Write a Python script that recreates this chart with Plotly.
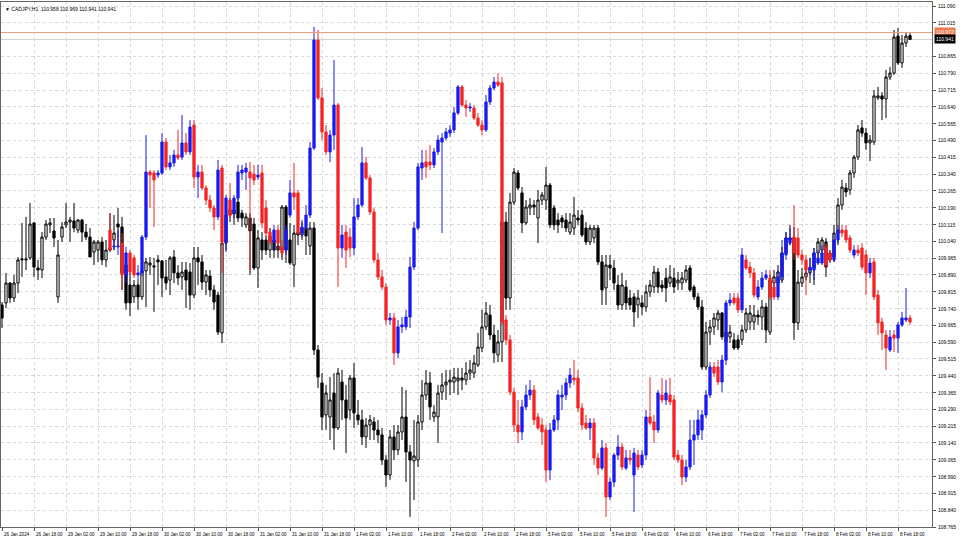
import plotly.graph_objects as go

symbol = "CADJPY,H1"
time_labels = ["26 Jan 2024", "26 Jan 18:00", "29 Jan 02:00", "29 Jan 10:00", "29 Jan 18:00",
               "30 Jan 02:00", "30 Jan 10:00", "30 Jan 18:00", "31 Jan 02:00", "31 Jan 10:00",
               "31 Jan 18:00", "1 Feb 02:00", "1 Feb 10:00", "1 Feb 18:00", "2 Feb 02:00",
               "2 Feb 10:00", "2 Feb 18:00", "5 Feb 02:00", "5 Feb 10:00", "5 Feb 18:00",
               "6 Feb 02:00", "6 Feb 10:00", "6 Feb 18:00", "7 Feb 02:00", "7 Feb 10:00",
               "7 Feb 18:00", "8 Feb 02:00", "8 Feb 10:00", "8 Feb 18:00"]
bars_per_label = 8
price_labels = ["111.090", "111.015", "110.865", "110.790", "110.715", "110.640", "110.565",
                "110.490", "110.415", "110.340", "110.265", "110.190", "110.115", "110.040",
                "109.965", "109.890", "109.815", "109.740", "109.665", "109.590", "109.515",
                "109.440", "109.365", "109.290", "109.215", "109.140", "109.065", "108.990",
                "108.915", "108.840", "108.765"]
ask_price = 110.972

# CADJPY H1 candles (black / white)
black_open = [
    109.756, 109.765, 109.854, 109.787, 109.854, 109.957, 109.957, 109.966, 110.122, 109.921,
    109.912, 110.059, 110.113, 110.086, 109.792, 110.059, 110.113, 110.126, 110.131, 110.090,
    110.135, 110.081, 110.059, 109.992, 110.001, 110.037, 109.957, 110.001, 110.046, 110.117,
    110.104, 109.934, 109.845, 109.792, 109.845, 109.792, 109.908, 109.934, 109.925, 109.957,
    109.952, 109.881, 109.867, 109.970, 109.899, 109.881, 109.912, 109.903, 109.800, 109.966,
    109.948, 109.858, 109.885, 109.823, 109.800, 109.631, 110.032, 110.157, 110.180, 110.215,
    110.166, 110.113, 110.144, 110.117, 109.921, 110.046, 110.046, 110.001, 110.046, 110.019,
    110.001, 110.193, 110.046, 109.934, 110.081, 110.068, 110.099, 110.019, 110.099, 109.555,
    109.408, 109.265, 109.256, 109.363, 109.207, 109.412, 109.332, 109.287, 109.430, 109.265,
    109.243, 109.167, 109.220, 109.234, 109.198, 109.176, 109.064, 108.997, 109.167, 109.109,
    109.189, 109.256, 109.100, 109.060, 109.064, 109.234, 109.354, 109.408, 109.256, 109.256,
    109.367, 109.399, 109.412, 109.412, 109.417, 109.430, 109.421, 109.452, 109.452, 109.488,
    109.564, 109.658, 109.711, 109.622, 109.533, 109.591, 110.126, 109.787, 110.215, 110.345,
    110.256, 110.122, 110.189, 110.202, 110.144, 110.224, 110.224, 110.291, 110.189, 110.135,
    110.144, 110.135, 110.081, 110.099, 110.144, 110.157, 110.099, 110.037, 110.055, 110.099,
    109.948, 109.832, 109.934, 109.921, 109.845, 109.756, 109.836, 109.787, 109.792, 109.756,
    109.765, 109.747, 109.814, 109.836, 109.903, 109.845, 109.876, 109.854, 109.876, 109.854,
    109.854, 109.867, 109.921, 109.836, 109.792, 109.747, 109.479, 109.635, 109.658, 109.689,
    109.720, 109.591, 109.613, 109.600, 109.600, 109.600, 109.644, 109.680, 109.680, 109.711,
    109.702, 109.747, 109.635, 109.854, 109.854, 109.867, 109.988, 110.055, 110.055, 109.676,
    109.854, 109.881, 109.899, 109.921, 109.988, 110.001, 110.037, 109.957, 109.970, 110.077,
    110.202, 110.278, 110.269, 110.345, 110.416, 110.546, 110.523, 110.479, 110.483, 110.680,
    110.689, 110.675, 110.773, 110.791, 110.956, 110.836, 110.925, 110.958]
black_high = [
    109.769, 109.899, 109.858, 109.890, 109.970, 110.122, 110.149, 110.211, 110.126, 109.957,
    110.081, 110.135, 110.144, 110.144, 110.046, 110.126, 110.211, 110.149, 110.211, 110.140,
    110.140, 110.117, 110.099, 110.046, 110.046, 110.059, 110.046, 110.166, 110.157, 110.189,
    110.149, 109.979, 109.899, 109.867, 109.867, 110.046, 109.966, 109.970, 109.966, 109.979,
    109.957, 109.957, 109.974, 110.001, 109.934, 109.948, 109.948, 109.943, 110.015, 110.015,
    109.979, 109.912, 109.912, 109.845, 109.814, 110.046, 110.202, 110.233, 110.224, 110.247,
    110.180, 110.166, 110.166, 110.144, 110.090, 110.081, 110.064, 110.099, 110.081, 110.077,
    110.202, 110.202, 110.122, 110.113, 110.122, 110.126, 110.135, 110.126, 110.126, 109.577,
    109.452, 109.399, 109.434, 109.452, 109.475, 109.466, 109.399, 109.443, 109.497, 109.332,
    109.287, 109.251, 109.265, 109.256, 109.243, 109.207, 109.086, 109.198, 109.220, 109.220,
    109.390, 109.376, 109.131, 109.243, 109.265, 109.421, 109.466, 109.457, 109.309, 109.399,
    109.452, 109.466, 109.466, 109.475, 109.475, 109.475, 109.501, 109.510, 109.533, 109.631,
    109.734, 109.769, 109.756, 109.667, 109.644, 110.171, 110.171, 110.256, 110.367, 110.358,
    110.282, 110.224, 110.233, 110.224, 110.269, 110.260, 110.372, 110.300, 110.202, 110.166,
    110.157, 110.166, 110.166, 110.238, 110.180, 110.180, 110.126, 110.113, 110.113, 110.113,
    109.979, 109.979, 109.979, 109.957, 109.890, 109.899, 109.867, 109.823, 109.809, 109.823,
    109.800, 109.845, 109.867, 109.930, 109.921, 109.867, 109.921, 109.934, 109.921, 109.903,
    109.903, 109.934, 109.934, 109.845, 109.809, 109.778, 109.680, 109.689, 109.720, 109.734,
    109.725, 109.644, 109.667, 109.631, 109.622, 109.667, 109.742, 109.756, 109.756, 109.734,
    109.778, 109.765, 109.890, 109.912, 109.934, 110.015, 110.081, 110.113, 110.104, 109.912,
    109.921, 109.934, 109.966, 110.010, 110.055, 110.059, 110.055, 110.001, 110.113, 110.233,
    110.314, 110.300, 110.358, 110.425, 110.559, 110.581, 110.546, 110.514, 110.715, 110.729,
    110.706, 110.805, 110.818, 110.983, 110.992, 110.961, 110.970, 110.969]
black_low = [
    109.653, 109.742, 109.765, 109.769, 109.809, 109.881, 109.912, 109.957, 109.881, 109.867,
    109.876, 110.046, 110.077, 110.015, 109.765, 110.037, 110.099, 110.037, 110.081, 110.077,
    110.037, 110.046, 109.970, 109.934, 109.948, 109.934, 109.925, 109.992, 110.001, 110.015,
    109.823, 109.734, 109.707, 109.765, 109.734, 109.778, 109.747, 109.890, 109.725, 109.845,
    109.792, 109.823, 109.800, 109.854, 109.845, 109.823, 109.742, 109.734, 109.787, 109.845,
    109.823, 109.800, 109.792, 109.734, 109.622, 109.586, 110.001, 110.126, 110.113, 110.126,
    110.104, 110.099, 109.890, 109.912, 109.832, 109.957, 109.979, 109.966, 109.966, 109.966,
    109.957, 109.943, 109.934, 109.836, 110.023, 110.046, 109.979, 109.979, 109.533, 109.385,
    109.198, 109.198, 109.153, 109.109, 109.198, 109.243, 109.095, 109.243, 109.207, 109.220,
    109.131, 109.118, 109.153, 109.153, 109.140, 109.042, 108.943, 108.975, 109.064, 109.086,
    109.153, 108.966, 108.810, 108.885, 109.033, 109.198, 109.332, 109.243, 109.234, 109.140,
    109.332, 109.332, 109.354, 109.363, 109.354, 109.376, 109.399, 109.421, 109.430, 109.479,
    109.546, 109.644, 109.600, 109.497, 109.501, 109.501, 109.734, 109.734, 110.202, 110.269,
    110.077, 110.113, 110.157, 110.157, 110.032, 110.202, 110.180, 110.099, 110.090, 110.077,
    110.099, 110.081, 110.068, 110.068, 110.113, 110.059, 110.023, 110.023, 110.032, 109.934,
    109.756, 109.756, 109.867, 109.823, 109.734, 109.734, 109.734, 109.734, 109.658, 109.698,
    109.711, 109.725, 109.792, 109.809, 109.809, 109.814, 109.769, 109.836, 109.809, 109.823,
    109.823, 109.854, 109.814, 109.778, 109.734, 109.466, 109.466, 109.577, 109.622, 109.644,
    109.600, 109.564, 109.586, 109.555, 109.555, 109.577, 109.631, 109.644, 109.644, 109.667,
    109.644, 109.586, 109.622, 109.823, 109.832, 109.854, 109.979, 110.023, 109.600, 109.644,
    109.836, 109.867, 109.854, 109.845, 109.966, 109.988, 109.881, 109.943, 109.948, 110.023,
    110.180, 110.238, 110.247, 110.323, 110.403, 110.506, 110.448, 110.398, 110.470, 110.671,
    110.581, 110.590, 110.760, 110.782, 110.827, 110.814, 110.907, 110.941]
black_close = [
    109.698, 109.854, 109.787, 109.854, 109.957, 109.961, 109.961, 110.117, 109.925, 109.912,
    110.059, 110.117, 110.122, 110.055, 109.979, 110.104, 110.126, 110.135, 110.099, 110.135,
    110.081, 110.059, 109.970, 110.037, 110.037, 109.957, 110.001, 110.010, 110.077, 110.104,
    109.899, 109.765, 109.765, 109.845, 109.792, 109.908, 109.948, 109.943, 109.930, 109.948,
    109.876, 109.854, 109.966, 109.899, 109.876, 109.903, 109.867, 109.800, 109.966, 109.948,
    109.858, 109.890, 109.823, 109.769, 109.635, 110.032, 110.157, 110.180, 110.162, 110.144,
    110.144, 110.149, 110.086, 109.921, 110.055, 110.001, 110.001, 110.064, 110.001, 110.001,
    110.193, 110.001, 109.943, 110.077, 110.068, 110.099, 110.064, 110.099, 109.555, 109.434,
    109.256, 109.363, 109.332, 109.207, 109.452, 109.332, 109.251, 109.430, 109.274, 109.243,
    109.167, 109.220, 109.243, 109.198, 109.176, 109.064, 108.997, 109.167, 109.109, 109.189,
    109.256, 109.100, 109.064, 109.082, 109.234, 109.354, 109.408, 109.301, 109.278, 109.363,
    109.399, 109.412, 109.421, 109.434, 109.430, 109.421, 109.452, 109.466, 109.497, 109.568,
    109.658, 109.720, 109.622, 109.542, 109.591, 110.126, 109.787, 110.215, 110.349, 110.278,
    110.122, 110.193, 110.202, 110.193, 110.224, 110.247, 110.291, 110.113, 110.113, 110.113,
    110.126, 110.099, 110.126, 110.157, 110.135, 110.068, 110.037, 110.099, 110.099, 109.948,
    109.823, 109.934, 109.921, 109.854, 109.756, 109.845, 109.765, 109.756, 109.725, 109.787,
    109.747, 109.814, 109.845, 109.903, 109.836, 109.832, 109.832, 109.881, 109.836, 109.867,
    109.876, 109.912, 109.823, 109.792, 109.747, 109.479, 109.635, 109.658, 109.698, 109.720,
    109.613, 109.635, 109.635, 109.564, 109.564, 109.644, 109.720, 109.720, 109.711, 109.702,
    109.747, 109.644, 109.867, 109.881, 109.903, 109.988, 110.055, 110.046, 109.676, 109.858,
    109.881, 109.899, 109.921, 109.988, 110.037, 110.046, 109.925, 109.988, 110.077, 110.202,
    110.282, 110.260, 110.345, 110.416, 110.537, 110.523, 110.479, 110.492, 110.689, 110.689,
    110.675, 110.773, 110.791, 110.952, 110.836, 110.925, 110.956, 110.941]

# overlaid blue / red candles (start later, end on the same last bar)
col_open = [
    110.090, 110.015, 110.015, 110.032, 109.890, 109.988, 109.966, 109.890, 109.899, 110.059,
    110.349, 110.345, 110.336, 110.345, 110.483, 110.372, 110.390, 110.425, 110.416, 110.479,
    110.439, 110.559, 110.327, 110.349, 110.278, 110.224, 110.189, 110.149, 110.367, 110.037,
    110.224, 110.166, 110.233, 110.345, 110.349, 110.349, 110.340, 110.327, 110.345, 110.189,
    110.081, 110.037, 110.090, 110.015, 110.001, 110.157, 110.256, 110.256, 110.077, 110.099,
    110.157, 110.456, 110.938, 110.680, 110.528, 110.439, 110.514, 110.648, 110.010, 110.081,
    110.059, 110.010, 110.149, 110.202, 110.390, 110.323, 110.171, 109.957, 109.881, 109.836,
    109.689, 109.698, 109.542, 109.658, 109.658, 109.702, 109.925, 110.099, 110.367, 110.394,
    110.394, 110.381, 110.439, 110.483, 110.501, 110.523, 110.537, 110.613, 110.729, 110.648,
    110.635, 110.635, 110.590, 110.559, 110.537, 110.662, 110.724, 110.751, 110.747, 109.689,
    109.600, 109.367, 109.220, 109.189, 109.301, 109.354, 109.376, 109.256, 109.220, 109.198,
    109.019, 109.198, 109.243, 109.345, 109.354, 109.408, 109.430, 109.430, 109.296, 109.229,
    109.207, 109.229, 109.073, 109.028, 109.118, 108.899, 108.966, 109.086, 109.122, 109.028,
    109.073, 108.997, 109.086, 109.042, 109.086, 109.256, 109.234, 109.198, 109.354, 109.332,
    109.354, 109.332, 109.086, 109.064, 108.988, 109.033, 109.153, 109.176, 109.198, 109.265,
    109.354, 109.479, 109.479, 109.412, 109.510, 109.765, 109.787, 109.787, 109.734, 109.957,
    109.925, 109.899, 109.792, 109.836, 109.876, 109.876, 109.836, 109.792, 109.881, 109.979,
    110.032, 110.059, 110.055, 109.979, 109.957, 109.912, 109.912, 109.943, 109.943, 110.015,
    109.988, 109.957, 110.046, 110.090, 110.090, 110.055, 109.979, 110.001, 110.010, 109.979,
    109.899, 109.948, 109.800, 109.680, 109.622, 109.555, 109.622, 109.608, 109.667, 109.689,
    109.698]
col_high = [
    110.166, 110.046, 110.090, 110.077, 110.015, 110.001, 109.979, 109.934, 110.068, 110.514,
    110.358, 110.358, 110.358, 110.523, 110.501, 110.425, 110.448, 110.537, 110.604, 110.523,
    110.581, 110.581, 110.381, 110.381, 110.291, 110.247, 110.202, 110.403, 110.381, 110.247,
    110.300, 110.247, 110.381, 110.381, 110.390, 110.394, 110.381, 110.381, 110.381, 110.224,
    110.099, 110.113, 110.113, 110.046, 110.113, 110.314, 110.390, 110.269, 110.135, 110.202,
    110.483, 110.997, 110.983, 110.724, 110.559, 110.537, 110.849, 110.657, 110.113, 110.113,
    110.099, 110.233, 110.233, 110.461, 110.416, 110.336, 110.189, 109.988, 109.912, 109.854,
    109.720, 109.720, 109.689, 109.702, 109.734, 109.970, 110.126, 110.390, 110.448, 110.448,
    110.470, 110.456, 110.514, 110.523, 110.546, 110.559, 110.639, 110.738, 110.738, 110.671,
    110.657, 110.648, 110.613, 110.581, 110.693, 110.738, 110.773, 110.791, 110.773, 109.711,
    109.622, 109.385, 109.332, 109.332, 109.399, 109.421, 109.399, 109.274, 109.251, 109.220,
    109.229, 109.265, 109.376, 109.399, 109.430, 109.475, 109.510, 109.466, 109.318, 109.265,
    109.251, 109.251, 109.095, 109.153, 109.140, 108.984, 109.095, 109.176, 109.140, 109.109,
    109.109, 109.118, 109.109, 109.109, 109.287, 109.434, 109.265, 109.376, 109.430, 109.421,
    109.430, 109.354, 109.109, 109.086, 109.064, 109.243, 109.243, 109.287, 109.287, 109.376,
    109.501, 109.501, 109.510, 109.533, 109.778, 109.809, 109.809, 109.809, 110.010, 109.979,
    109.948, 109.921, 109.867, 109.903, 109.912, 109.912, 109.867, 109.912, 110.046, 110.081,
    110.099, 110.202, 110.099, 110.001, 109.979, 109.966, 110.010, 110.001, 110.023, 110.032,
    110.001, 110.068, 110.113, 110.113, 110.113, 110.068, 110.023, 110.023, 110.032, 110.001,
    109.966, 109.966, 109.823, 109.698, 109.644, 109.644, 109.644, 109.680, 109.725, 109.832,
    109.711]
col_low = [
    110.001, 110.001, 109.979, 109.823, 109.854, 109.890, 109.876, 109.867, 109.885, 110.046,
    110.189, 110.104, 110.323, 110.336, 110.358, 110.358, 110.372, 110.403, 110.403, 110.425,
    110.425, 110.278, 110.233, 110.269, 110.202, 110.171, 110.090, 110.135, 109.899, 109.992,
    110.144, 110.144, 110.224, 110.314, 110.269, 109.912, 110.291, 110.314, 110.099, 110.059,
    110.023, 110.001, 110.001, 109.970, 109.979, 110.144, 110.180, 110.068, 110.059, 110.090,
    110.144, 110.448, 110.671, 110.492, 110.425, 110.394, 110.448, 109.836, 109.966, 109.921,
    109.970, 109.979, 110.135, 110.193, 110.314, 110.157, 109.943, 109.867, 109.823, 109.667,
    109.667, 109.488, 109.519, 109.631, 109.644, 109.653, 109.912, 110.090, 110.314, 110.323,
    110.358, 110.367, 110.425, 110.077, 110.492, 110.506, 110.523, 110.604, 110.639, 110.595,
    110.617, 110.581, 110.550, 110.514, 110.528, 110.648, 110.715, 110.729, 109.667, 109.577,
    109.354, 109.189, 109.140, 109.153, 109.287, 109.332, 109.220, 109.198, 109.131, 108.966,
    108.975, 109.189, 109.198, 109.287, 109.332, 109.385, 109.399, 109.278, 109.198, 109.198,
    109.153, 109.042, 108.997, 109.019, 108.810, 108.885, 108.943, 109.064, 109.019, 109.019,
    109.042, 108.832, 109.019, 109.028, 109.064, 109.220, 109.140, 109.185, 109.318, 109.309,
    109.309, 109.064, 109.051, 108.952, 108.966, 109.019, 109.042, 109.153, 109.153, 109.251,
    109.341, 109.434, 109.399, 109.367, 109.488, 109.751, 109.756, 109.720, 109.720, 109.912,
    109.876, 109.787, 109.778, 109.823, 109.867, 109.778, 109.778, 109.778, 109.867, 109.957,
    110.023, 109.957, 109.966, 109.934, 109.800, 109.890, 109.867, 109.934, 109.934, 109.921,
    109.948, 109.948, 110.032, 110.059, 110.032, 109.988, 109.966, 109.974, 109.912, 109.800,
    109.876, 109.778, 109.622, 109.555, 109.466, 109.546, 109.546, 109.542, 109.658, 109.680,
    109.667]
col_close = [
    110.001, 110.019, 110.019, 109.890, 109.988, 109.903, 109.890, 109.899, 110.059, 110.349,
    110.336, 110.314, 110.345, 110.483, 110.372, 110.390, 110.425, 110.412, 110.479, 110.439,
    110.550, 110.327, 110.349, 110.278, 110.224, 110.189, 110.149, 110.358, 110.037, 110.233,
    110.157, 110.233, 110.349, 110.358, 110.367, 110.323, 110.314, 110.336, 110.122, 110.077,
    110.037, 110.090, 110.032, 109.988, 110.090, 110.256, 110.238, 110.077, 110.104, 110.157,
    110.456, 110.938, 110.680, 110.528, 110.439, 110.514, 110.648, 110.010, 110.068, 110.001,
    110.010, 110.149, 110.202, 110.390, 110.323, 110.171, 109.957, 109.881, 109.836, 109.689,
    109.698, 109.542, 109.658, 109.667, 109.702, 109.925, 110.099, 110.372, 110.390, 110.372,
    110.381, 110.439, 110.492, 110.501, 110.528, 110.537, 110.613, 110.729, 110.648, 110.635,
    110.639, 110.590, 110.559, 110.537, 110.662, 110.724, 110.751, 110.738, 109.680, 109.600,
    109.367, 109.220, 109.189, 109.301, 109.354, 109.376, 109.243, 109.207, 109.189, 109.019,
    109.198, 109.243, 109.354, 109.354, 109.408, 109.443, 109.421, 109.296, 109.220, 109.207,
    109.229, 109.073, 109.028, 109.118, 108.899, 108.966, 109.086, 109.122, 109.033, 109.073,
    109.064, 109.095, 109.033, 109.086, 109.256, 109.229, 109.198, 109.363, 109.332, 109.363,
    109.323, 109.077, 109.064, 108.988, 109.033, 109.153, 109.176, 109.243, 109.265, 109.354,
    109.479, 109.452, 109.412, 109.510, 109.765, 109.778, 109.765, 109.734, 109.979, 109.921,
    109.899, 109.800, 109.836, 109.876, 109.890, 109.792, 109.792, 109.881, 109.988, 110.055,
    110.055, 109.988, 109.979, 109.957, 109.912, 109.925, 109.988, 109.966, 109.988, 109.934,
    109.957, 110.046, 110.090, 110.077, 110.046, 110.001, 110.001, 109.988, 109.925, 109.899,
    109.943, 109.792, 109.676, 109.631, 109.564, 109.613, 109.608, 109.667, 109.698, 109.698,
    109.680]

n = len(black_open)
x_black = list(range(n))
x_col = list(range(n - len(col_open), n))
tick_pos = [k * bars_per_label for k in range(len(time_labels))]
price_vals = [float(s) for s in price_labels]
bid_price = black_close[-1]

RED = "#f42424"
BLUE = "#1a1af0"
GRID = "#d8d8d8"
FONT = "Liberation Sans, Arial, sans-serif"

fig = go.Figure()
fig.add_trace(go.Candlestick(
    x=x_black, open=black_open, high=black_high, low=black_low, close=black_close,
    increasing=dict(line=dict(color="black", width=1), fillcolor="white"),
    decreasing=dict(line=dict(color="black", width=1), fillcolor="black"),
    whiskerwidth=0, hoverinfo="skip", showlegend=False))
fig.add_trace(go.Candlestick(
    x=x_col, open=col_open, high=col_high, low=col_low, close=col_close,
    increasing=dict(line=dict(color=BLUE, width=1), fillcolor=BLUE),
    decreasing=dict(line=dict(color=RED, width=1), fillcolor=RED),
    whiskerwidth=0, hoverinfo="skip", showlegend=False))

fig.add_shape(type="line", xref="paper", x0=0, x1=1, yref="y", y0=bid_price, y1=bid_price,
              line=dict(color="#cfcfcf", width=1), layer="below")
fig.add_shape(type="line", xref="paper", x0=0, x1=1, yref="y", y0=ask_price, y1=ask_price,
              line=dict(color="#ec9c80", width=1))

# price scale labels (right side)
for v, s in zip(price_vals, price_labels):
    fig.add_annotation(xref="paper", x=1.0, xanchor="left", yref="y", y=v, yanchor="middle",
                       text=s, showarrow=False, xshift=4,
                       font=dict(color="black", size=5, family=FONT))
# time scale labels (bottom)
for p, s in zip(tick_pos, time_labels):
    fig.add_annotation(xref="x", x=p, xanchor="left", yref="paper", y=0, yanchor="top",
                       text=s, showarrow=False, yshift=-3, xshift=0,
                       font=dict(color="black", size=4.6, family=FONT))

fig.add_annotation(xref="paper", x=1.0, xanchor="left", yref="y", y=ask_price, yanchor="middle",
                   text=f"{ask_price:.3f}", showarrow=False, bgcolor="#ec7a50", xshift=2,
                   font=dict(color="white", size=5, family=FONT), borderpad=1)
fig.add_annotation(xref="paper", x=1.0, xanchor="left", yref="y", y=bid_price, yanchor="middle",
                   text=f"{bid_price:.3f}", showarrow=False, bgcolor="black", xshift=2,
                   font=dict(color="white", size=5, family=FONT), borderpad=1)
header = (f"▼ {symbol}  {black_open[-1]:.3f} {black_high[-1]:.3f} "
          f"{black_low[-1]:.3f} {black_close[-1]:.3f}")
fig.add_annotation(xref="paper", x=0.002, xanchor="left", yref="paper", y=0.997, yanchor="top",
                   text=header, showarrow=False, font=dict(color="black", size=5, family=FONT))

fig.update_layout(
    width=960, height=540, margin=dict(l=1, r=28, t=2, b=13),
    paper_bgcolor="white", plot_bgcolor="white", showlegend=False, boxgap=0.2,
    font=dict(family=FONT, size=5, color="black"),
    xaxis=dict(range=[-0.25, 232.5], tickmode="array", tickvals=tick_pos, showticklabels=False,
               ticks="outside", ticklen=3, tickcolor="#555",
               showgrid=True, gridcolor=GRID, griddash="dot", gridwidth=1,
               showline=True, linecolor="#666", linewidth=1, mirror=True, zeroline=False,
               rangeslider=dict(visible=False), automargin=False, fixedrange=True),
    yaxis=dict(side="right", range=[108.765, 111.108], tickmode="array", tickvals=price_vals,
               showticklabels=False, ticks="outside", ticklen=3, tickcolor="#555",
               showgrid=True, gridcolor=GRID, griddash="dot", gridwidth=1,
               showline=True, linecolor="#666", linewidth=1, mirror=True, zeroline=False,
               automargin=False, fixedrange=True),
)

fig.write_html("out.html", config={"displayModeBar": False},
               post_script="document.body.style.margin='0';document.body.style.overflow='hidden';")
